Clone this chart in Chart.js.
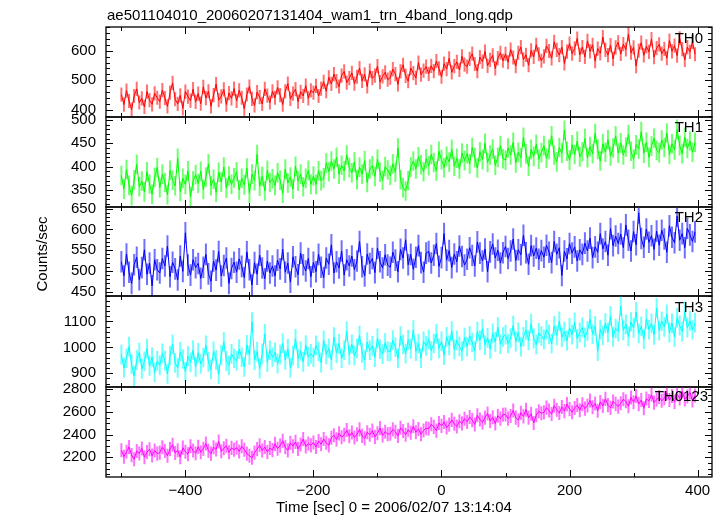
<!DOCTYPE html>
<html lang="en">
<head>
<meta charset="UTF-8">
<title>ae501104010 wam1 lightcurve</title>
<script src="https://cdn.jsdelivr.net/npm/chart.js"></script>
<style>
    body { margin: 0; background: #fff; }
    #wrap { position: relative; width: 724px; height: 516px; overflow: hidden; font-family: "Liberation Sans", Arial, sans-serif; color: #000; }
    #wrap canvas { position: absolute; left: 0; top: 0; }
    .txt { position: absolute; font-size: 15px; white-space: nowrap; }
    #title { left: 107px; top: 6px; }
    #xlab { left: 276px; top: 498px; }
</style>
</head>
<body>
<div id="wrap">
    <canvas id="c0" width="724" height="516"></canvas>
    <canvas id="c1" width="724" height="516"></canvas>
    <canvas id="c2" width="724" height="516"></canvas>
    <canvas id="c3" width="724" height="516"></canvas>
    <canvas id="c4" width="724" height="516"></canvas>
    <div class="txt" id="title">ae501104010_20060207131404_wam1_trn_4band_long.qdp</div>
    <div class="txt" id="xlab">Time [sec] 0 = 2006/02/07 13:14:04</div>
</div>
<script>
    // time bins: start -500 s, 4 s wide
    const tStart = -500
    const tStep = 4

    const bandNames = ['TH0', 'TH1', 'TH2', 'TH3', 'TH0123']
    const yTitle = 'Counts/sec'

    // counts/sec, one row = 60 s
    const th0 = [
        452, 418, 465, 430, 401, 447, 471, 425, 439, 410, 462, 433, 419, 456, 441,
        428, 467, 440, 412, 458, 491, 436, 420, 449, 405, 462, 445, 431, 470, 427,
        455, 421, 478, 440, 463, 412, 450, 487, 433, 446, 469, 418, 457, 439, 472,
        430, 466, 441, 404, 452, 479, 437, 415, 460, 443, 420, 471, 448, 425, 463,
        441, 476, 450, 418, 463, 489, 437, 455, 470, 428, 461, 447, 482, 439, 466,
        458, 481, 447, 472, 495, 463, 510, 488, 521, 497, 479, 516, 530, 492, 507,
        525, 489, 512, 541, 498, 520, 479, 533, 507, 516, 548, 494, 513, 527, 502,
        509, 538, 521, 486, 530, 552, 515, 497, 541, 524, 508, 560, 519, 533, 546,
        522, 549, 531, 565, 540, 512, 556, 538, 574, 527, 548, 562, 535, 581, 553,
        546, 572, 590, 555, 531, 578, 563, 597, 549, 569, 584, 540, 575, 593, 566,
        589, 561, 604, 577, 548, 593, 612, 570, 586, 551, 601, 579, 620, 588, 566,
        581, 616, 599, 574, 630, 603, 585, 612, 557, 597, 624, 590, 608, 641, 586,
        612, 579, 633, 598, 620, 565, 607, 591, 646, 603, 585, 619, 572, 611, 628,
        589, 622, 604, 656, 593, 611, 548, 600, 627, 584, 615, 596, 639, 578, 609,
        621, 590, 606, 575, 634, 598, 617, 583, 642, 605, 569, 612, 596, 630, 588
    ]
    const th1 = [
        381, 352, 394, 360, 338, 372, 405, 357, 369, 346, 389, 363, 341, 377, 398,
        355, 384, 366, 340, 392, 371, 359, 418, 347, 375, 362, 391, 336, 369, 383,
        364, 390, 351, 378, 406, 359, 373, 345, 388, 367, 399, 354, 380, 362, 376,
        389, 350, 375, 361, 397, 343, 384, 370, 426, 358, 379, 348, 392, 366, 374,
        360, 387, 371, 343, 395, 365, 378, 352, 401, 369, 384, 357, 375, 392, 362,
        380, 362, 391, 370, 376, 408, 389, 412, 395, 420, 384, 403, 391, 425, 398,
        387, 410, 372, 399, 384, 413, 366, 395, 402, 379, 416, 388, 371, 400, 393,
        381, 406, 388, 440, 372, 355, 348, 370, 399, 412, 395, 421, 404, 389, 417,
        402, 426, 409, 391, 433, 415, 398, 422, 410, 437, 401, 418, 395, 429, 413,
        428, 406, 441, 419, 397, 432, 415, 450, 409, 425, 438, 403, 420, 445, 417,
        414, 440, 425, 452, 408, 431, 419, 463, 427, 401, 437, 422, 448, 416, 430,
        445, 418, 437, 466, 425, 410, 441, 429, 478, 433, 414, 447, 426, 455, 421,
        432, 460, 419, 443, 428, 471, 437, 412, 449, 431, 458, 423, 440, 466, 429,
        451, 425, 442, 469, 433, 416, 447, 438, 475, 429, 452, 420, 444, 461, 435,
        430, 457, 441, 472, 426, 449, 436, 480, 445, 428, 463, 439, 455, 431, 452
    ]
    const th2 = [
        522, 488, 541, 497, 470, 515, 533, 479, 508, 551, 492, 519, 464, 527, 503,
        495, 530, 512, 560, 486, 521, 505, 478, 536, 499, 592, 514, 490, 527, 508,
        518, 482, 509, 540, 493, 475, 524, 502, 547, 488, 513, 531, 470, 506, 521,
        497, 529, 511, 484, 546, 503, 466, 520, 492, 538, 507, 481, 524, 495, 512,
        488, 526, 505, 552, 497, 519, 473, 534, 510, 491, 543, 515, 500, 530, 486,
        521, 498, 540, 509, 484, 531, 516, 563, 495, 522, 507, 548, 490, 527, 512,
        536, 503, 524, 571, 510, 488, 541, 518, 530, 496, 555, 522, 507, 539, 514,
        509, 545, 526, 498, 552, 531, 575, 515, 540, 504, 533, 561, 520, 497, 543,
        547, 519, 538, 566, 511, 532, 590, 526, 549, 508, 541, 522, 560, 535, 514,
        528, 556, 537, 512, 570, 543, 524, 553, 498, 546, 565, 531, 550, 519, 544,
        559, 530, 548, 577, 525, 551, 539, 586, 544, 516, 561, 536, 555, 528, 549,
        533, 562, 545, 520, 571, 540, 556, 489, 548, 529, 566, 543, 558, 524, 551,
        540, 567, 548, 579, 532, 558, 545, 590, 553, 571, 538, 602, 561, 584, 566,
        589, 556, 611, 574, 548, 595, 563, 640, 578, 557, 601, 569, 585, 552, 596,
        562, 598, 577, 545, 609, 581, 568, 632, 574, 590, 556, 603, 587, 571, 594
    ]
    const th3 = [
        972, 921, 958, 1003, 934, 889, 951, 980, 917, 946, 995, 928, 962, 903, 948,
        931, 977, 949, 898, 968, 1012, 940, 921, 983, 955, 906, 966, 942, 990, 925,
        979, 936, 961, 1008, 944, 915, 985, 952, 896, 970, 1021, 947, 931, 975, 958,
        948, 993, 962, 925, 1010, 970, 1098, 951, 984, 918, 976, 1052, 943, 989, 962,
        981, 937, 973, 1016, 952, 995, 921, 968, 1033, 957, 986, 944, 1009, 963, 975,
        962, 1008, 984, 941, 1027, 973, 996, 951, 1040, 978, 1015, 958, 989, 1062, 971,
        1012, 968, 995, 1046, 979, 951, 1020, 989, 1006, 962, 1035, 993, 974, 1018, 985,
        983, 1028, 1001, 957, 1044, 1012, 976, 1030, 994, 1067, 985, 1015, 958, 1023, 1006,
        1031, 987, 1015, 1052, 996, 1023, 970, 1041, 1008, 1063, 992, 1027, 1004, 985, 1038,
        1003, 1045, 1019, 986, 1061, 1028, 1072, 1009, 1037, 994, 1054, 1021, 1078, 1012, 1040,
        1049, 1015, 1036, 1084, 1022, 1058, 1003, 1041, 1067, 1027, 1092, 1035, 1011, 1056, 1044,
        1031, 1068, 1050, 1014, 1083, 1046, 1101, 1039, 1062, 1026, 1075, 1049, 1097, 1033, 1058,
        1077, 1038, 1064, 1109, 1051, 1083, 985, 1069, 1046, 1094, 1058, 1122, 1040, 1073, 1061,
        1159, 1066, 1089, 1042, 1098, 1075, 1137, 1054, 1081, 1032, 1110, 1068, 1093, 1048, 1152,
        1065, 1101, 1079, 1128, 1057, 1093, 1040, 1115, 1084, 1061, 1139, 1076, 1102, 1068, 1095
    ]
    const th0123 = [
        2262, 2205, 2248, 2291, 2219, 2183, 2255, 2234, 2278, 2201, 2246, 2270, 2215, 2259, 2232,
        2241, 2289, 2256, 2213, 2274, 2310, 2238, 2262, 2201, 2285, 2249, 2227, 2298, 2260, 2236,
        2292, 2245, 2276, 2321, 2258, 2232, 2288, 2269, 2340, 2253, 2279, 2301, 2244, 2283, 2266,
        2285, 2251, 2298, 2267, 2232, 2214, 2195, 2241, 2272, 2306, 2259, 2290, 2247, 2281, 2263,
        2318, 2276, 2303, 2345, 2289, 2261, 2327, 2298, 2336, 2274, 2312, 2360, 2295, 2321, 2305,
        2331, 2290, 2344, 2315, 2361, 2328, 2305, 2372, 2394, 2358, 2411, 2376, 2399, 2440, 2385,
        2418, 2375, 2402, 2446, 2389, 2367, 2421, 2398, 2435, 2380, 2412, 2457, 2393, 2426, 2404,
        2408, 2446, 2425, 2387, 2460, 2431, 2399, 2442, 2416, 2473, 2421, 2450, 2403, 2437, 2456,
        2452, 2491, 2468, 2435, 2503, 2477, 2512, 2462, 2488, 2530, 2495, 2471, 2518, 2499, 2540,
        2512, 2556, 2528, 2489, 2571, 2534, 2508, 2549, 2587, 2520, 2553, 2498, 2566, 2541, 2575,
        2578, 2541, 2565, 2612, 2550, 2527, 2593, 2561, 2620, 2548, 2584, 2503, 2571, 2606, 2589,
        2596, 2638, 2612, 2581, 2655, 2620, 2590, 2643, 2607, 2669, 2625, 2598, 2634, 2661, 2615,
        2668, 2629, 2657, 2701, 2642, 2674, 2611, 2688, 2653, 2715, 2660, 2636, 2692, 2671, 2647,
        2677, 2712, 2694, 2651, 2728, 2686, 2740, 2669, 2705, 2633, 2718, 2697, 2751, 2682, 2710,
        2731, 2698, 2722, 2766, 2705, 2740, 2689, 2757, 2718, 2783, 2709, 2736, 2772, 2701, 2745
    ]
    // typical 1-sigma error per bin
    const bandErrors = [24, 21, 26, 38, 62]

    // axis ranges and tick steps
    const yMin = [376, 313.6, 439.6, 847, 2026]
    const yMax = [680, 506.4, 654.1, 1198.4, 2820]
    const yMajor = [100, 50, 50, 100, 200]
    const yMinor = [20, 10, 10, 20, 50]
    const xMin = -524
    const xMax = 422.5
    const xMajor = 200

    const bandData = [th0, th1, th2, th3, th0123]
    const lineColors = ['#ff0000', '#00ff00', '#0000ff', '#00ffff', '#ff00ff']
    const errColors = ['#ff7070', '#70ff70', '#7070ff', '#70ffff', '#ff70ff']

    const panelTop = [27, 117, 207, 296, 387]
    const panelBottom = [117, 207, 296, 387, 477]
    const labelRight = [703, 703, 703, 703, 708]
    const labelDy = [12, 11, 11, 12, 10]

    const FONT = '"Liberation Sans", Arial, sans-serif'

    function minusSign(v) {
        return v < 0 ? '\u2212' + Math.abs(v) : '' + v
    }

    // major ticks at whole multiples of the step only
    function stepTicks(step) {
        return s => {
            const out = []
            for (let v = Math.ceil(s.min / step) * step; v <= s.max; v += step) out.push({ value: v })
            s.ticks = out
        }
    }

    const panelDeco = {
        id: 'panelDeco',
        beforeDatasetsDraw(chart, args, o) {
            const ctx = chart.ctx
            const xs = chart.scales.x, ys = chart.scales.y
            const a = chart.chartArea
            ctx.save()
            ctx.beginPath()
            ctx.rect(a.left, a.top, a.right - a.left, a.bottom - a.top)
            ctx.clip()
            ctx.strokeStyle = o.errColor
            ctx.lineWidth = 2
            ctx.beginPath()
            chart.data.datasets[0].data.forEach(p => {
                const px = xs.getPixelForValue(p.x)
                ctx.moveTo(px, ys.getPixelForValue(p.y - o.err))
                ctx.lineTo(px, ys.getPixelForValue(p.y + o.err))
            })
            ctx.stroke()
            ctx.restore()
        },
        afterDraw(chart, args, o) {
            const ctx = chart.ctx
            const xs = chart.scales.x, ys = chart.scales.y
            const a = chart.chartArea
            ctx.save()
            ctx.strokeStyle = '#000'
            ctx.lineWidth = 1
            ctx.beginPath()
            // x ticks, top and bottom, pointing in
            for (let v = Math.ceil(xMin / 100) * 100; v <= xMax; v += 100) {
                const px = Math.round(xs.getPixelForValue(v)) + 0.5
                const len = v % 200 === 0 ? 7 : 4
                ctx.moveTo(px, a.top); ctx.lineTo(px, a.top + len)
                ctx.moveTo(px, a.bottom); ctx.lineTo(px, a.bottom - len)
            }
            // y ticks, left and right
            const lo = ys.min, hi = ys.max
            for (let v = Math.ceil(lo / o.minor) * o.minor; v <= hi; v += o.minor) {
                const py = Math.round(ys.getPixelForValue(v)) + 0.5
                const len = Math.abs(v % o.major) < 1e-6 ? 7 : 4
                ctx.moveTo(a.left, py); ctx.lineTo(a.left + len, py)
                ctx.moveTo(a.right, py); ctx.lineTo(a.right - len, py)
            }
            ctx.stroke()
            ctx.lineWidth = 1.3
            ctx.strokeRect(a.left, a.top, a.right - a.left, a.bottom - a.top)
            ctx.fillStyle = '#000'
            ctx.font = '15px ' + FONT
            ctx.textAlign = 'right'
            ctx.textBaseline = 'middle'
            ctx.fillText(o.label, o.labelX, a.top + o.labelDy)
            if (o.yTitle) {
                ctx.translate(43, 254)
                ctx.rotate(-Math.PI / 2)
                ctx.textAlign = 'center'
                ctx.fillText(o.yTitle, 0, 0)
            }
            ctx.restore()
        }
    }

    bandData.forEach((vals, i) => {
        const last = i === bandData.length - 1
        const pts = vals.map((v, k) => ({ x: tStart + k * tStep, y: v }))
        new Chart(document.getElementById('c' + i), {
            type: 'line',
            data: {
                datasets: [{
                    data: pts,
                    borderColor: lineColors[i],
                    borderWidth: 1,
                    pointRadius: 0,
                    tension: 0,
                    fill: false
                }]
            },
            options: {
                responsive: false,
                animation: false,
                layout: {
                    padding: { top: panelTop[i], bottom: last ? 0 : 516 - panelBottom[i], left: 0, right: 12 }
                },
                plugins: {
                    legend: { display: false },
                    tooltip: { enabled: false },
                    panelDeco: {
                        err: bandErrors[i], errColor: errColors[i],
                        major: yMajor[i], minor: yMinor[i],
                        label: bandNames[i], labelX: labelRight[i], labelDy: labelDy[i],
                        yTitle: i === 2 ? yTitle : null
                    }
                },
                scales: {
                    x: {
                        type: 'linear',
                        min: xMin,
                        max: xMax,
                        display: last,
                        grid: { display: false, drawTicks: false },
                        border: { display: false },
                        ticks: {
                            maxRotation: 0,
                            autoSkip: false,
                            padding: 5,
                            color: '#000',
                            font: { family: FONT, size: 15 },
                            callback: minusSign
                        },
                        afterBuildTicks: stepTicks(xMajor),
                        afterFit: s => { if (last) s.height = 516 - panelBottom[i] }
                    },
                    y: {
                        min: yMin[i],
                        max: yMax[i],
                        grid: { display: false, drawTicks: false },
                        border: { display: false },
                        ticks: {
                            autoSkip: false,
                            padding: 10,
                            color: '#000',
                            font: { family: FONT, size: 15 },
                            callback: minusSign
                        },
                        afterBuildTicks: stepTicks(yMajor[i]),
                        afterFit: s => { s.width = 106 }
                    }
                }
            },
            plugins: [panelDeco]
        })
    })
</script>
</body>
</html>
